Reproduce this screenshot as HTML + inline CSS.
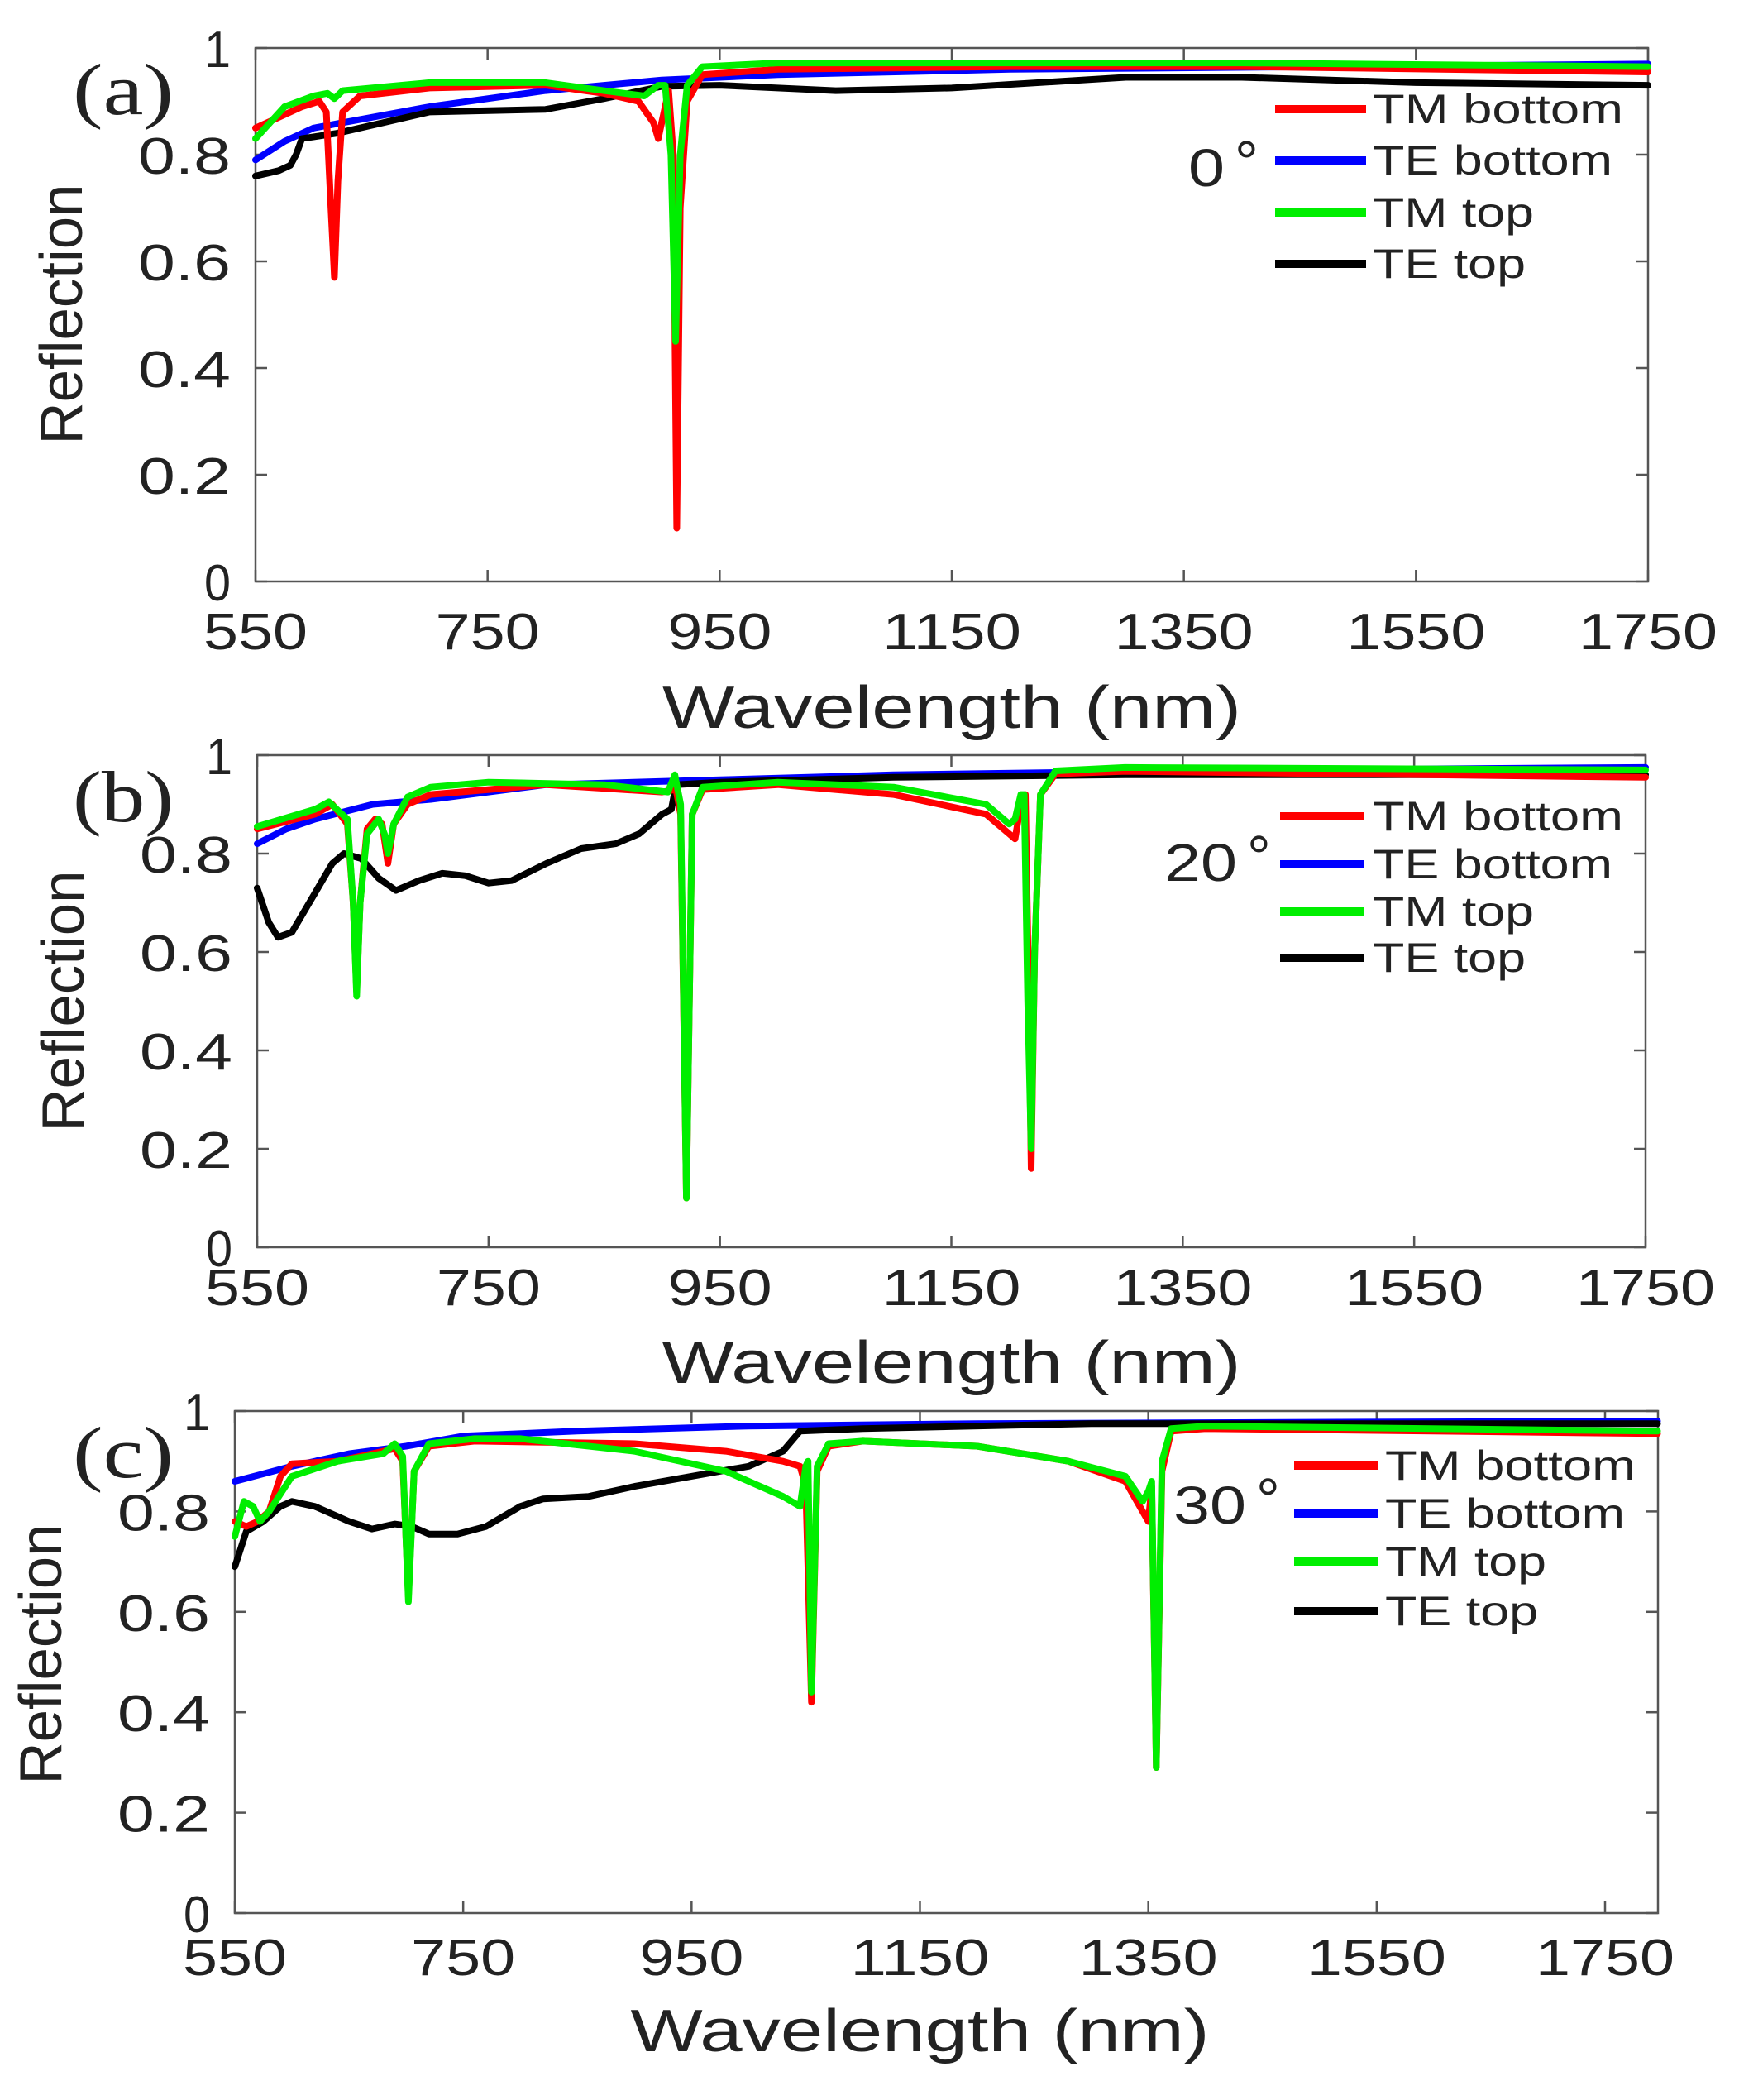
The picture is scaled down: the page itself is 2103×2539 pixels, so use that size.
<!DOCTYPE html>
<html><head><meta charset="utf-8"><style>
html,body{margin:0;padding:0;background:#fff;}
svg{display:block}
text{font-family:"Liberation Sans",sans-serif;fill:#222;}
text.serif{font-family:"Liberation Serif",serif;}
</style></head><body>
<svg id="s" width="2103" height="2539" viewBox="0 0 2103 2539" xmlns="http://www.w3.org/2000/svg">
<rect width="2103" height="2539" fill="#fff"/>
</svg>
<script>
const NS="http://www.w3.org/2000/svg";const S=document.getElementById('s');
function el(t,a,txt){const e=document.createElementNS(NS,t);for(const k in a)e.setAttribute(k,a[k]);if(txt!==undefined)e.textContent=txt;S.appendChild(e);return e;}
function T(x,y,s,fs,anchor,w,extra){const a={x:x,y:y,'font-size':fs,'text-anchor':anchor||'start'};if(w){a.textLength=w;a.lengthAdjust='spacingAndGlyphs';}Object.assign(a,extra||{});return el('text',a,s);}
const panels=[
 {L:309,R:1993,T:58,B:703,xmax:1750,x1750:1993,lab:'(a)',ang:'0',
  leg:{x1:1542,x2:1652,tx:1660,ys:[132,194,257,319]},angx:1437,angy:225,
  xlabY:785,wlY:880,refY:380,
  red:[[550,.85],[570,.87],[590,.89],[605,.9],[611,.88],[615,.7],[618,.57],[621,.75],[625,.88],[640,.91],[700,.925],[800,.93],[850,.915],[880,.9],[893,.86],[897,.83],[902,.88],[906,.92],[910,.8],[913,.1],[916,.7],[922,.9],[935,.95],[1000,.96],[1200,.965],[1400,.965],[1750,.955]],
  green:[[550,.83],[575,.89],[600,.91],[612,.915],[618,.905],[625,.92],[700,.935],[800,.935],[850,.92],[885,.91],[897,.93],[903,.93],[908,.8],[912,.45],[916,.8],[922,.93],[935,.965],[1000,.972],[1400,.972],[1750,.965]],
  blue:[[550,.79],[575,.825],[600,.85],[650,.87],[700,.89],[800,.92],[900,.94],[1000,.95],[1200,.96],[1750,.97]],
  black:[[550,.76],[570,.77],[580,.78],[585,.8],[590,.83],[620,.84],[660,.86],[700,.88],[800,.885],[850,.905],[900,.928],[950,.93],[1050,.92],[1150,.925],[1300,.945],[1400,.945],[1550,.935],[1750,.93]]},
 {L:311,R:1990,T:913,B:1508,xmax:1750,x1750:1990,lab:'(b)',ang:'20',
  leg:{x1:1548,x2:1650,tx:1660,ys:[987,1045,1102,1158]},angx:1408,angy:1065,
  xlabY:1578,wlY:1672,refY:1210,
  red:[[550,.85],[600,.88],[615,.9],[628,.86],[633,.7],[636,.52],[639,.7],[645,.85],[652,.87],[658,.86],[663,.78],[668,.86],[680,.9],[700,.92],[800,.94],[900,.925],[912,.93],[916,.88],[921,.1],[926,.88],[935,.93],[1000,.94],[1100,.92],[1180,.88],[1200,.84],[1205,.83],[1210,.9],[1214,.92],[1217,.5],[1219,.16],[1222,.6],[1227,.92],[1240,.962],[1300,.967],[1750,.955]],
  green:[[550,.855],[600,.89],[612,.905],[628,.87],[633,.7],[636,.51],[639,.7],[645,.84],[655,.87],[660,.84],[663,.8],[668,.86],[680,.915],[700,.935],[750,.945],[850,.94],[905,.925],[911,.96],[916,.9],[921,.1],[926,.88],[935,.935],[1000,.945],[1100,.935],[1180,.9],[1200,.86],[1205,.87],[1210,.92],[1213,.92],[1216,.5],[1219,.2],[1222,.6],[1227,.92],[1240,.968],[1300,.975],[1750,.97]],
  blue:[[550,.82],[575,.85],[600,.87],[650,.9],[700,.91],[800,.94],[950,.95],[1100,.96],[1400,.97],[1750,.975]],
  black:[[550,.73],[560,.66],[568,.63],[580,.64],[600,.72],[615,.78],[625,.8],[640,.79],[655,.75],[670,.725],[690,.745],[710,.76],[730,.755],[750,.74],[770,.745],[800,.78],[830,.81],[860,.82],[880,.84],[900,.88],[908,.89],[912,.94],[950,.945],[1100,.955],[1300,.96],[1750,.96]]},
 {L:284,R:2005,T:1706,B:2313,xmax:1796,x1750:1941,lab:'(c)',ang:'30',
  leg:{x1:1565,x2:1667,tx:1675,ys:[1772,1830,1888,1948]},angx:1419,angy:1842,
  xlabY:2388,wlY:2480,refY:2000,
  red:[[550,.78],[560,.77],[570,.78],[580,.8],[590,.87],[600,.895],[640,.9],[680,.92],[690,.925],[697,.9],[702,.63],[707,.88],[720,.93],[760,.94],[900,.935],[980,.92],[1030,.9],[1045,.89],[1050,.85],[1055,.42],[1060,.88],[1070,.93],[1100,.94],[1200,.93],[1280,.9],[1330,.86],[1345,.8],[1350,.78],[1353,.85],[1357,.29],[1362,.88],[1370,.96],[1400,.965],[1796,.955]],
  green:[[550,.75],[558,.82],[566,.81],[572,.78],[580,.8],[600,.87],[640,.9],[680,.915],[690,.935],[697,.91],[702,.62],[707,.88],[720,.935],[760,.945],[800,.945],[900,.92],[980,.88],[1030,.83],[1045,.81],[1050,.89],[1052,.9],[1055,.44],[1060,.89],[1070,.935],[1100,.94],[1200,.93],[1280,.9],[1330,.87],[1345,.82],[1350,.84],[1353,.86],[1357,.29],[1362,.9],[1370,.965],[1400,.97],[1796,.96]],
  blue:[[550,.86],[600,.89],[650,.915],[700,.93],[750,.95],[850,.96],[1000,.97],[1200,.975],[1796,.98]],
  black:[[550,.69],[560,.76],[575,.78],[590,.81],[600,.82],[620,.81],[650,.78],[670,.765],[690,.775],[705,.77],[720,.755],[745,.755],[770,.77],[800,.81],[820,.825],[860,.83],[900,.85],[950,.87],[1000,.89],[1030,.92],[1045,.96],[1100,.965],[1300,.975],[1796,.975]]}
];
const cols={red:'#ff0000',blue:'#0000ff',green:'#00ee00',black:'#000000'};
panels.forEach(p=>{
 const k=(p.x1750-p.L)/1200;const X=n=>p.L+(n-550)*k;const Y=r=>p.B-r*(p.B-p.T);
 el('rect',{x:p.L,y:p.T,width:p.R-p.L,height:p.B-p.T,fill:'#fff',stroke:'#555','stroke-width':2.5});
 for(let n=550;n<=1750;n+=200){const x=X(n);
  el('line',{x1:x,y1:p.B,x2:x,y2:p.B-14,stroke:'#555','stroke-width':2.5});
  el('line',{x1:x,y1:p.T,x2:x,y2:p.T+14,stroke:'#555','stroke-width':2.5});
  const s=String(n);T(x,p.xlabY,s,62,'middle',s.length*42);}
 for(let i=0;i<=5;i++){const r=i*0.2;const y=Y(r);
  el('line',{x1:p.L,y1:y,x2:p.L+14,y2:y,stroke:'#555','stroke-width':2.5});
  el('line',{x1:p.R,y1:y,x2:p.R-14,y2:y,stroke:'#555','stroke-width':2.5});
  const s=i==0?'0':(i==5?'1':r.toFixed(1));T(p.L-30,y+23,s,62,'end',s.length==1?32:112);}
 ['blue','black','red','green'].forEach(c=>{
  el('polyline',{points:p[c].map(q=>X(q[0]).toFixed(1)+','+Y(q[1]).toFixed(1)).join(' '),fill:'none',stroke:cols[c],'stroke-width':8,'stroke-linejoin':'round','stroke-linecap':'round'});});
 const names=['TM bottom','TE bottom','TM top','TE top'],cc=['red','blue','green','black'],ww=[303,290,195,185];
 names.forEach((nm,i)=>{const y=p.leg.ys[i];
  el('line',{x1:p.leg.x1,y1:y,x2:p.leg.x2,y2:y,stroke:cols[cc[i]],'stroke-width':10});
  T(p.leg.tx,y+17,nm,50,'start',ww[i]);});
 T(p.angx,p.angy,p.ang,64,'start',p.ang.length*44);
 T(p.angx+p.ang.length*44+12,p.angy-4,'°',72,'start');
 el('text',{x:88,y:p.T+80,'font-size':88,'class':'serif',textLength:122,lengthAdjust:'spacingAndGlyphs'},p.lab);
 T((p.L+p.x1750)/2,p.wlY,'Wavelength (nm)',72,'middle',700);
 el('text',{x:0,y:0,'font-size':72,'text-anchor':'middle',transform:`translate(${p.L-210},${p.refY}) rotate(-90)`,textLength:315,lengthAdjust:'spacingAndGlyphs'},'Reflection');
});
</script>
</body></html>
